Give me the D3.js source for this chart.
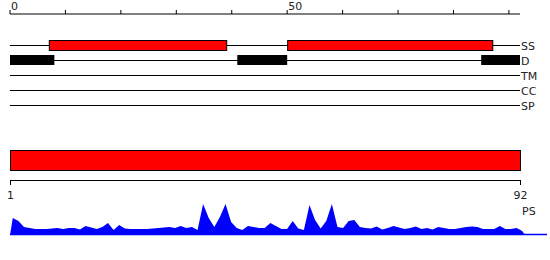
<!DOCTYPE html>
<html><head><meta charset="utf-8">
<script src="https://cdn.jsdelivr.net/npm/d3@7"></script>
<style>body{margin:0;background:#fff}svg{display:block}text{font-family:"DejaVu Sans",sans-serif;font-size:11px;fill:#222}</style>
</head><body><svg id="c" width="550" height="260"></svg>
<script>
const seqLength = 92;
const topTicks = [0,10,20,30,40,50,60,70,80,90];
const topTickLabels = {0:"0",50:"50"};
const tracks = ["SS","D","TM","CC","SP"];
const ssSegments = [[7,39],[50,87]];
const dSegments = [[0,8],[41,50],[85,92]];
const psLabel = "PS";
const bottomTicks = [1,92];
const psValues = [17,14,8,7,6,6,6,6.5,7,6,7,7,5.5,9,7.5,6,8,12,5,10,6.5,6,6,6,6,6.5,7,7.5,8,7,9,7,8,5,31,17,8,18,31,13,7,5,9,8,7,7,12,9,6,6,14,6.5,5,30,15,6.5,14,31,8,7,14,15,8,7,6.5,8.5,5.5,7,9,7.5,6,7,8.5,6,7,5.5,8,7,6,6,7,8,8.5,8,6,6,6,9,6,6,7,4];

const svg = d3.select("#c");
const x = d3.scaleLinear().domain([0, seqLength]).range([10, 520]);

// top axis
const gTop = svg.append("g").attr("transform","translate(0,14)");
gTop.append("line").attr("x1",x(0)).attr("x2",x(seqLength)).attr("stroke","#000");
gTop.selectAll("line.t").data(topTicks).join("line").attr("class","t")
  .attr("x1",d=>x(d)).attr("x2",d=>x(d)).attr("y1",-4).attr("y2",0).attr("stroke","#000");
gTop.selectAll("text").data(topTicks.filter(d=>topTickLabels[d])).join("text")
  .attr("x",d=>x(d)+1).attr("y",-4).text(d=>topTickLabels[d]);

// tracks
const yTrack = d3.scalePoint().domain(tracks).range([45,105]);
svg.selectAll("line.track").data(tracks).join("line").attr("class","track")
  .attr("x1",x(0)).attr("x2",x(seqLength)).attr("y1",d=>yTrack(d)+0.5).attr("y2",d=>yTrack(d)+0.5).attr("stroke","#000");
svg.selectAll("text.track").data(tracks).join("text").attr("class","track")
  .attr("x",521).attr("y",d=>yTrack(d)+4.5).text(d=>d);
svg.selectAll("rect.ss").data(ssSegments).join("rect").attr("class","ss")
  .attr("x",d=>x(d[0])+0.5).attr("width",d=>x(d[1])-x(d[0]))
  .attr("y",yTrack("SS")-4.5).attr("height",10).attr("fill","#ff0000").attr("stroke","#000");
svg.selectAll("rect.d").data(dSegments).join("rect").attr("class","d")
  .attr("x",d=>x(d[0])).attr("width",d=>x(d[1])-x(d[0]))
  .attr("y",yTrack("D")-5).attr("height",10).attr("fill","#000");

// bottom bar
const xb = d3.scaleLinear().domain([1, seqLength]).range([10, 520]);
svg.append("rect").attr("x",xb(1)+0.5).attr("y",150.5).attr("width",xb(seqLength)-xb(1)).attr("height",20)
  .attr("fill","#ff0000").attr("stroke","#000");
const gB = svg.append("g").attr("transform","translate(0,180)");
gB.append("line").attr("x1",xb(1)).attr("x2",xb(seqLength)+1).attr("y1",0.5).attr("y2",0.5).attr("stroke","#000");
gB.selectAll("line.t").data(bottomTicks).join("line").attr("class","t")
  .attr("x1",d=>xb(d)+0.5).attr("x2",d=>xb(d)+0.5).attr("y1",0).attr("y2",5).attr("stroke","#000");
gB.selectAll("text").data(bottomTicks).join("text").attr("text-anchor","middle")
  .attr("x",d=>xb(d)+0.5).attr("y",19).text(d=>d);
svg.append("text").attr("x",522).attr("y",215).text(psLabel);

// PS area
const xa = d3.scaleLinear().domain([0.5, seqLength+0.5]).range([10, 525]);
const ya = d3.scaleLinear().domain([0, 31]).range([235, 204]);
const pts = [[0.5,0]].concat(psValues.map((v,i)=>[i+1,v])).concat([[seqLength+0.5,0]]);
svg.append("path").datum(pts)
  .attr("d", d3.area().x(d=>xa(d[0])).y0(ya(0)).y1(d=>ya(d[1])))
  .attr("fill","#0000ff");
svg.append("line").attr("x1",xa(0.5)).attr("x2",547).attr("y1",ya(0)-0.5).attr("y2",ya(0)-0.5)
  .attr("stroke","#0000ff").attr("stroke-width",1.5);
</script></body></html>
